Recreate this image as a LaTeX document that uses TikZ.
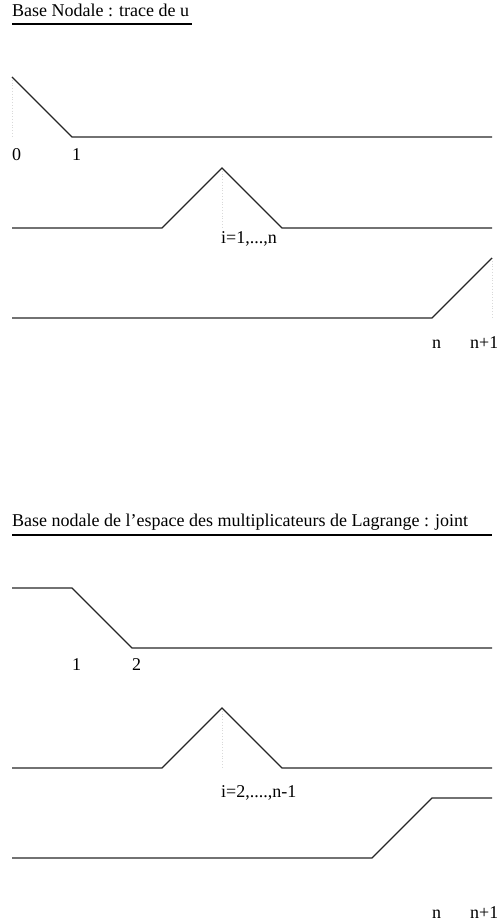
\documentclass[tikz,border=0pt]{standalone}
\usepackage{fontspec}
\setmainfont{Liberation Serif}
\usepackage{tikz}
\usetikzlibrary{positioning}
\usepackage{xcolor}

\begin{document}
\begin{tikzpicture}[x=1pt,y=-1pt,
  curve/.style={line width=1.2pt,black!85,line join=miter},
  guide/.style={dotted,gray!30,line width=0.8pt},
  lbl/.style={anchor=base west,inner sep=0pt,font=\fontsize{18}{20}\selectfont},
  ttl/.style={anchor=base west,inner sep=0pt,font=\fontsize{18}{20}\selectfont},
  rule/.style={line width=2pt,black}]
\useasboundingbox (0,0) rectangle (497,923);
% trace de u
\node[ttl] (t1) at (12,17) {Base Nodale : trace de u};
\coordinate (t1a) at (12,24.5); \coordinate (t1b) at (192,24.5);
\draw[rule] (t1a) -- (t1b);
\coordinate (a0) at (12,77); \coordinate (a1) at (72,137); \coordinate (a2) at (492,137);
\coordinate (a0b) at (12,137);
\draw[guide] (a0) -- (a0b);
\draw[curve] (a0) -- (a1) -- (a2);
\node[lbl] (l0) at (12,160) {0};
\node[lbl] (l1) at (72,160) {1};
\coordinate (b0) at (12,228); \coordinate (b1) at (162,228); \coordinate (b2) at (222,168);
\coordinate (b3) at (282,228); \coordinate (b4) at (492,228); \coordinate (b2b) at (222,228);
\draw[guide] (b2) -- (b2b);
\draw[curve] (b0) -- (b1) -- (b2) -- (b3) -- (b4);
\node[lbl] (li) at (221,243) {i=1,...,n};
\coordinate (c0) at (12,318); \coordinate (c1) at (432,318); \coordinate (c2) at (492,258);
\coordinate (c2b) at (492,318);
\draw[guide] (c2) -- (c2b);
\draw[curve] (c0) -- (c1) -- (c2);
\node[lbl] (ln) at (432,348) {n};
\node[lbl] (lnp) at (470,348) {n+1};
% multiplicateurs de Lagrange
\node[ttl] (t2) at (12,526) {Base nodale de l’espace des multiplicateurs de Lagrange : joint};
\coordinate (t2a) at (12,535); \coordinate (t2b) at (492,535);
\draw[rule] (t2a) -- (t2b);
\coordinate (d0) at (12,588); \coordinate (d1) at (72,588); \coordinate (d2) at (132,648);
\coordinate (d3) at (492,648);
\draw[curve] (d0) -- (d1) -- (d2) -- (d3);
\node[lbl] (m1) at (72,670) {1};
\node[lbl] (m2) at (132,670) {2};
\coordinate (e0) at (12,768); \coordinate (e1) at (162,768); \coordinate (e2) at (222,708);
\coordinate (e3) at (282,768); \coordinate (e4) at (492,768); \coordinate (e2b) at (222,768);
\draw[guide] (e2) -- (e2b);
\draw[curve] (e0) -- (e1) -- (e2) -- (e3) -- (e4);
\node[lbl] (mi) at (221,797) {i=2,....,n-1};
\coordinate (f0) at (12,858); \coordinate (f1) at (372,858); \coordinate (f2) at (432,798);
\coordinate (f3) at (492,798);
\draw[curve] (f0) -- (f1) -- (f2) -- (f3);
\node[lbl] (mn) at (432,918) {n};
\node[lbl] (mnp) at (470,918) {n+1};
\end{tikzpicture}
\end{document}
